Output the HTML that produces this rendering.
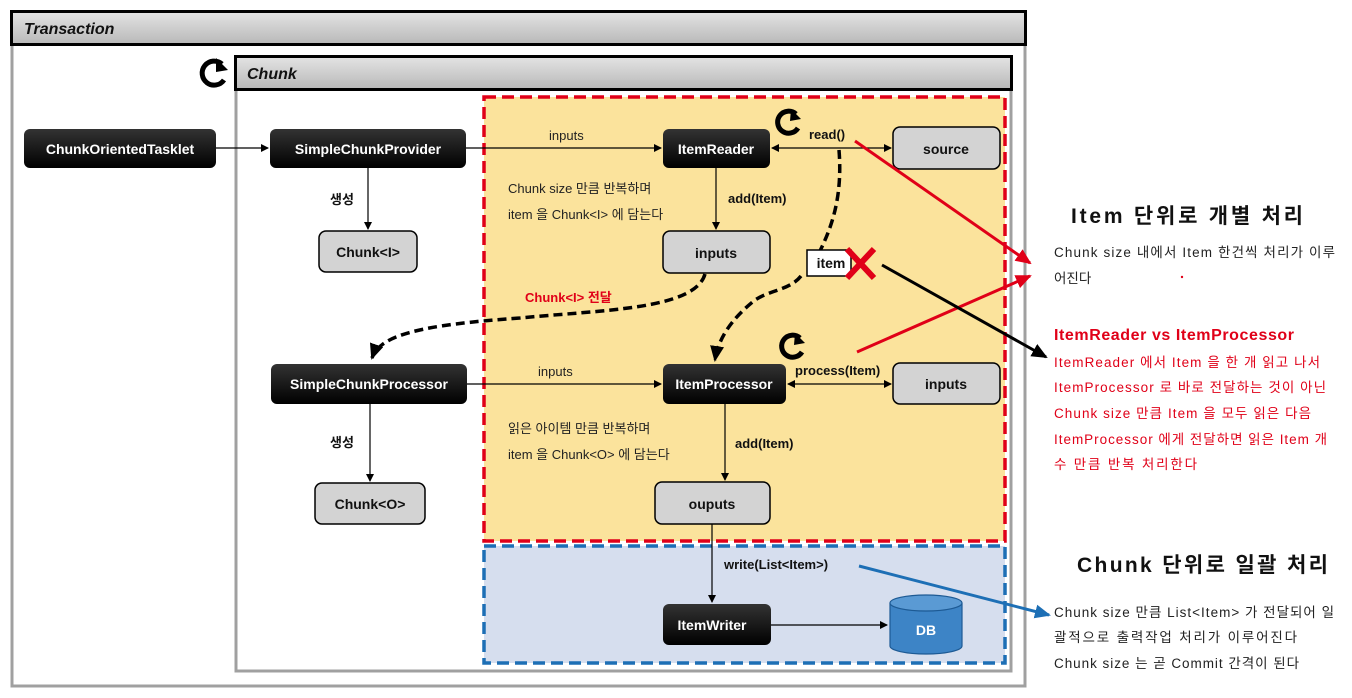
<!DOCTYPE html>
<html><head><meta charset="utf-8"><style>
html,body{margin:0;padding:0;background:#fff;}
svg{display:block;}
text{font-family:"Liberation Sans","Noto Sans CJK KR",sans-serif;}
.w{fill:#fff;font-weight:bold;font-size:14px;text-anchor:middle;}
.b{fill:#111;font-weight:bold;font-size:14px;text-anchor:middle;}
.n{fill:#222;font-size:13px;}
.l{fill:#111;font-weight:bold;font-size:13px;}
</style></head><body>
<svg width="1352" height="698" viewBox="0 0 1352 698" xmlns="http://www.w3.org/2000/svg">
<defs>
<linearGradient id="hg" x1="0" y1="0" x2="0" y2="1"><stop offset="0" stop-color="#e4e4e4"/><stop offset="1" stop-color="#b8b8b8"/></linearGradient>
<linearGradient id="bk" x1="0" y1="0" x2="0" y2="1"><stop offset="0" stop-color="#333"/><stop offset="1" stop-color="#000"/></linearGradient>
<marker id="a" markerWidth="8" markerHeight="8" refX="7" refY="4" orient="auto" markerUnits="userSpaceOnUse"><path d="M0,0 L8,4 L0,8z" fill="#000"/></marker>
<marker id="as" markerWidth="8" markerHeight="8" refX="1" refY="4" orient="auto" markerUnits="userSpaceOnUse"><path d="M8,0 L0,4 L8,8z" fill="#000"/></marker>
<marker id="ar" markerWidth="16" markerHeight="14" refX="14" refY="7" orient="auto" markerUnits="userSpaceOnUse"><path d="M0,0 L16,7 L0,14z" fill="#e00018"/></marker>
<marker id="ak" markerWidth="16" markerHeight="14" refX="14" refY="7" orient="auto" markerUnits="userSpaceOnUse"><path d="M0,0 L16,7 L0,14z" fill="#000"/></marker>
<marker id="ab" markerWidth="16" markerHeight="14" refX="14" refY="7" orient="auto" markerUnits="userSpaceOnUse"><path d="M0,0 L16,7 L0,14z" fill="#1d6fb5"/></marker>
</defs>
<!-- Transaction -->
<rect x="12" y="44" width="1013" height="642" fill="#fff" stroke="#a0a0a0" stroke-width="3"/>
<rect x="11.5" y="11.5" width="1014" height="33" fill="url(#hg)" stroke="#000" stroke-width="3"/>
<text x="24" y="34" font-size="16" font-weight="bold" font-style="italic" fill="#111">Transaction</text>
<!-- Chunk -->
<rect x="236" y="89" width="775" height="582" fill="#fff" stroke="#a0a0a0" stroke-width="3"/>
<rect x="235.5" y="56.5" width="776" height="33" fill="url(#hg)" stroke="#000" stroke-width="3"/>
<text x="247" y="79" font-size="16" font-weight="bold" font-style="italic" fill="#111">Chunk</text>
<!-- dashed areas -->
<rect x="484" y="97" width="521" height="444" fill="#fbe39c" stroke="#e00018" stroke-width="3.5" stroke-dasharray="12,6"/>
<rect x="484" y="546" width="521" height="117" fill="#d6deee" stroke="#1d6fb5" stroke-width="3.5" stroke-dasharray="12,6"/>
<!-- refresh icons -->
<g fill="none" stroke="#000" stroke-width="5">
<path d="M222,64 A12,12 0 1 0 224,80"/>
<path d="M796,114 A11,11 0 1 0 798,128"/>
<path d="M800,338 A11,11 0 1 0 802,352"/>
</g>
<path d="M216,58 L228,70 L216,72z" fill="#000"/>
<path d="M791,109 L801,119 L790,121z" fill="#000"/>
<path d="M795,333 L805,343 L794,345z" fill="#000"/>
<!-- connectors -->
<g stroke="#000" stroke-width="1.2" fill="none">
<line x1="216" y1="148" x2="268" y2="148" marker-end="url(#a)"/>
<line x1="466" y1="148" x2="661" y2="148" marker-end="url(#a)"/>
<line x1="368" y1="168" x2="368" y2="229" marker-end="url(#a)"/>
<line x1="772" y1="148" x2="891" y2="148" marker-start="url(#as)" marker-end="url(#a)"/>
<line x1="716" y1="168" x2="716" y2="229" marker-end="url(#a)"/>
<line x1="467" y1="384" x2="661" y2="384" marker-end="url(#a)"/>
<line x1="370" y1="404" x2="370" y2="481" marker-end="url(#a)"/>
<line x1="788" y1="384" x2="891" y2="384" marker-start="url(#as)" marker-end="url(#a)"/>
<line x1="725" y1="404" x2="725" y2="480" marker-end="url(#a)"/>
<line x1="712" y1="524" x2="712" y2="602" marker-end="url(#a)"/>
<line x1="771" y1="625" x2="887" y2="625" marker-end="url(#a)"/>
</g>
<g stroke="#000" stroke-width="3.5" fill="none" stroke-dasharray="9,5">
<path d="M705,274 C695,310 600,310 520,318 C420,325 380,335 372,358" marker-end="url(#ak)"/>
<path d="M839,150 C843,200 830,230 820,251"/>
<path d="M801,276 C790,290 770,290 755,300 C730,320 718,340 715,360" marker-end="url(#ak)"/>
</g>
<!-- nodes -->
<g>
<rect x="24" y="129" width="192" height="39" rx="6" fill="url(#bk)"/><text class="w" x="120" y="154">ChunkOrientedTasklet</text>
<rect x="270" y="129" width="196" height="39" rx="6" fill="url(#bk)"/><text class="w" x="368" y="154">SimpleChunkProvider</text>
<rect x="319" y="231" width="98" height="41" rx="7" fill="#d3d3d3" stroke="#000" stroke-width="1.5"/><text class="b" x="368" y="257">Chunk&lt;I&gt;</text>
<rect x="663" y="129" width="107" height="39" rx="6" fill="url(#bk)"/><text class="w" x="716" y="154">ItemReader</text>
<rect x="893" y="127" width="107" height="42" rx="7" fill="#d3d3d3" stroke="#000" stroke-width="1.5"/><text class="b" x="946" y="154">source</text>
<rect x="663" y="231" width="107" height="42" rx="7" fill="#d3d3d3" stroke="#000" stroke-width="1.5"/><text class="b" x="716" y="258">inputs</text>
<rect x="807" y="250" width="44" height="26" fill="#fff" stroke="#000" stroke-width="1.5"/><text class="b" x="831" y="268">item</text>
<rect x="271" y="364" width="196" height="40" rx="6" fill="url(#bk)"/><text class="w" x="369" y="389">SimpleChunkProcessor</text>
<rect x="663" y="364" width="123" height="40" rx="6" fill="url(#bk)"/><text class="w" x="724" y="389">ItemProcessor</text>
<rect x="893" y="363" width="107" height="41" rx="7" fill="#d3d3d3" stroke="#000" stroke-width="1.5"/><text class="b" x="946" y="389">inputs</text>
<rect x="315" y="483" width="110" height="41" rx="7" fill="#d3d3d3" stroke="#000" stroke-width="1.5"/><text class="b" x="370" y="509">Chunk&lt;O&gt;</text>
<rect x="655" y="482" width="115" height="42" rx="7" fill="#d3d3d3" stroke="#000" stroke-width="1.5"/><text class="b" x="712" y="509">ouputs</text>
<rect x="663" y="604" width="108" height="41" rx="6" fill="url(#bk)"/><text class="w" x="712" y="630">ItemWriter</text>
<path d="M890,603 L890,646 A36,8 0 0 0 962,646 L962,603" fill="#3d84c6" stroke="#1d5a94" stroke-width="1.2"/>
<ellipse cx="926" cy="603" rx="36" ry="8" fill="#5a9ad4" stroke="#1d5a94" stroke-width="1.2"/>
<text x="926" y="635" fill="#fff" font-weight="bold" font-size="14" text-anchor="middle">DB</text>
</g>
<!-- labels -->
<text class="l" x="330" y="204">생성</text>
<text class="l" x="330" y="447">생성</text>
<text class="n" x="549" y="140">inputs</text>
<text class="n" x="538" y="376">inputs</text>
<text class="l" x="809" y="139">read()</text>
<text class="l" x="728" y="203">add(Item)</text>
<text class="l" x="735" y="448">add(Item)</text>
<text class="l" x="795" y="375">process(Item)</text>
<text class="l" x="724" y="569">write(List&lt;Item&gt;)</text>
<text class="n" x="508" y="193">Chunk size 만큼 반복하며</text>
<text class="n" x="508" y="219">item 을 Chunk&lt;I&gt; 에 담는다</text>
<text class="n" x="508" y="433">읽은 아이템 만큼 반복하며</text>
<text class="n" x="508" y="459">item 을 Chunk&lt;O&gt; 에 담는다</text>
<text x="525" y="302" fill="#e00018" font-weight="bold" font-size="13">Chunk&lt;I&gt; 전달</text>
<!-- big red X -->
<g stroke="#e00018" stroke-width="6" stroke-linecap="butt"><line x1="847" y1="249" x2="874" y2="278"/><line x1="874" y1="249" x2="847" y2="278"/></g>
<!-- long arrows -->
<line x1="855" y1="141" x2="1030" y2="263" stroke="#e00018" stroke-width="3" marker-end="url(#ar)"/>
<line x1="857" y1="352" x2="1030" y2="276" stroke="#e00018" stroke-width="3" marker-end="url(#ar)"/>
<line x1="882" y1="265" x2="1046" y2="357" stroke="#000" stroke-width="3" marker-end="url(#ak)"/>
<line x1="859" y1="566" x2="1049" y2="615" stroke="#1d6fb5" stroke-width="3" marker-end="url(#ab)"/>
<!-- right text -->
<text x="1071" y="223" font-size="21" font-weight="bold" fill="#111" textLength="232">Item 단위로 개별 처리</text>
<text x="1054" y="257" font-size="13.5" fill="#222" textLength="281">Chunk size 내에서 Item 한건씩 처리가 이루</text>
<text x="1054" y="283" font-size="13.5" fill="#222">어진다</text>
<circle cx="1182" cy="277" r="1.2" fill="#e00018"/>
<text x="1054" y="340" font-size="16" font-weight="bold" fill="#e00018" textLength="240">ItemReader vs ItemProcessor</text>
<g font-size="13.5" fill="#e00018">
<text x="1054" y="367" textLength="266">ItemReader 에서 Item 을 한 개 읽고 나서</text>
<text x="1054" y="392" textLength="272">ItemProcessor 로 바로 전달하는 것이 아닌</text>
<text x="1054" y="418" textLength="257">Chunk size 만큼 Item 을 모두 읽은 다음</text>
<text x="1054" y="444" textLength="273">ItemProcessor 에게 전달하면 읽은 Item 개</text>
<text x="1054" y="469" textLength="143">수 만큼 반복 처리한다</text>
</g>
<text x="1077" y="572" font-size="21" font-weight="bold" fill="#111" textLength="251">Chunk 단위로 일괄 처리</text>
<g font-size="13.5" fill="#222">
<text x="1054" y="617" textLength="280">Chunk size 만큼 List&lt;Item&gt; 가 전달되어 일</text>
<text x="1054" y="642" textLength="243">괄적으로 출력작업 처리가 이루어진다</text>
<text x="1054" y="668" textLength="245">Chunk size 는 곧 Commit 간격이 된다</text>
</g>
</svg>
</body></html>
